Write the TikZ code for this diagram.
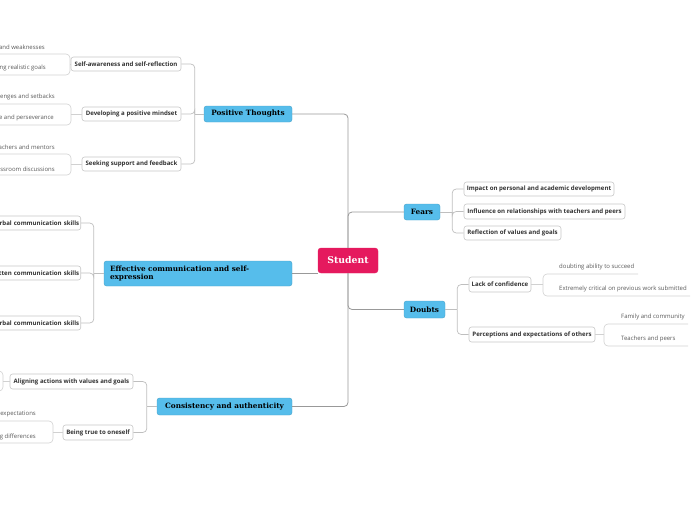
\documentclass[tikz,border=0pt]{standalone}
\usepackage{fontspec}
\setmainfont{Open Sans}
\newfontfamily\slabfont{DejaVu Serif}
\definecolor{topicblue}{HTML}{56BDEB}
\definecolor{rootpink}{HTML}{E5195E}
\begin{document}
\begin{tikzpicture}[
    x=1pt,y=-1pt,
    root/.style={fill=rootpink,draw=rootpink,rounded corners=3pt,
        minimum width=60pt,minimum height=25pt,text=white,
        font=\slabfont\bfseries\fontsize{9.3}{11}\selectfont},
    topic/.style={fill=topicblue,draw=topicblue!85!black,line width=.4pt,
        rounded corners=2.5pt,inner sep=2pt,text=black,
        font=\slabfont\bfseries\fontsize{7.3}{8.3}\selectfont},
    sub/.style={draw=black!22,fill=white,line width=.6pt,rounded corners=2.5pt,
        minimum height=14pt,inner sep=1.5pt,text=black!80,
        font=\bfseries\fontsize{6.1}{7}\selectfont},
    leaf/.style={inner sep=0pt,text=black!65,font=\fontsize{6}{7}\selectfont},
    trunk/.style={draw=black!40,line width=.8pt,rounded corners=4pt},
    branch/.style={draw=black!25,line width=.7pt,rounded corners=4pt},
    leafline/.style={draw=black!18,line width=.6pt,rounded corners=4pt}]
    \useasboundingbox (0,0) rectangle (696,520);
    \node[root] (student) at (348,260.5) {Student};
    \node[topic,minimum width=88pt,minimum height=16pt] (pos) at (248,114) {Positive Thoughts};
    \node[topic,text width=176pt,inner xsep=6pt,minimum height=25pt,align=left] (comm) at (198,273.5)
        {Effective communication and self-\\expression};
    \node[topic,minimum width=135pt,minimum height=17pt] (cons) at (224.5,406.5) {Consistency and authenticity};
    \node[topic,minimum width=36pt,minimum height=16pt] (fears) at (422,212) {Fears};
    \node[topic,minimum width=41pt,minimum height=17pt] (doubts) at (424.5,309.5) {Doubts};

    \draw[trunk] (student.north) |- (pos.east);
    \draw[trunk] (student.north) |- (fears.west);
    \draw[trunk] (comm.east) -- (comm.east -| student.west);
    \draw[trunk] (student.south) |- (cons.east);
    \draw[trunk] (student.south) |- (doubts.west);

    \node[sub,minimum width=110pt] (selfaw) at (126,64) {Self-awareness and self-reflection};
    \node[sub,minimum width=99pt] (mindset) at (131.5,114) {Developing a positive mindset};
    \node[sub,minimum width=99pt] (support) at (131.5,164) {Seeking support and feedback};
    \node[sub,text width=96pt,align=right,anchor=east] (verbal) at (81,223) {rbal communication skills};
    \node[sub,text width=96pt,align=right,anchor=east] (written) at (81,273) {tten communication skills};
    \node[sub,text width=96pt,align=right,anchor=east] (nonverbal) at (81,323) {rbal communication skills};
    \node[sub,minimum width=123pt,minimum height=15pt] (align) at (71.5,381.5) {Aligning actions with values and goals};
    \node[sub,minimum width=70pt,minimum height=15pt] (true) at (98,432.5) {Being true to oneself};
    \node[sub,minimum width=150pt] (impact) at (539,189) {Impact on personal and academic development};
    \node[sub,minimum width=161pt,minimum height=15pt] (influence) at (544.5,211.5) {Influence on relationships with teachers and peers};
    \node[sub,minimum width=97pt] (reflect) at (512.5,233) {Reflection of values and goals};
    \node[sub,minimum width=62pt,minimum height=15pt] (lack) at (500,284.5) {Lack of confidence};
    \node[sub,minimum width=126pt,minimum height=15pt] (percept) at (532,334.5) {Perceptions and expectations of others};

    \draw[branch] (pos.west) -- ++(-9,0) coordinate (posJ);
    \foreach \n in {selfaw,mindset,support} \draw[branch] (posJ) |- (\n.east);
    \draw[branch] (comm.west) -- ++(-10,0) coordinate (commJ);
    \foreach \n in {verbal,written,nonverbal} \draw[branch] (commJ) |- (\n.east);
    \draw[branch] (cons.west) -- ++(-10,0) coordinate (consJ);
    \foreach \n in {align,true} \draw[branch] (consJ) |- (\n.east);
    \draw[branch] (fears.east) -- ++(12,0) coordinate (fearsJ);
    \foreach \n in {impact,influence,reflect} \draw[branch] (fearsJ) |- (\n.west);
    \draw[branch] (doubts.east) -- ++(12,0) coordinate (doubtsJ);
    \foreach \n in {lack,percept} \draw[branch] (doubtsJ) |- (\n.west);

    \foreach \t/\x/\y [count=\i] in {and weaknesses/45/47, ng realistic goals/46/68,
        enges and setbacks/55/97, e and perseverance/54/118,
        achers and mentors/55/147, ssroom discussions/55/169,
        expectations/36/414, g differences/36/437}
        \node[leaf,anchor=east] (lw\i) at (\x,\y) {\t};
    \foreach \t/\x/\y [count=\i] in {doubting ability to succeed/559/267,
        Extremely critical on previous work submitted/559/289,
        Family and community/621/317, Teachers and peers/621/339}
        \node[leaf,anchor=west] (le\i) at (\x,\y) {\t};

    \foreach \bx/\ya/\yb in {70/54/75, 71/104/125, 71/154/175, 53/421/443, 3/371/391}
        \draw[leafline] (-6,\ya) -- (\bx,\ya) -- (\bx,\yb) -- (-6,\yb);
    \draw[leafline] (638,274) -- (543,274) -- (543,296) -- (690,296);
    \draw[leafline] (688,324) -- (604,324) -- (604,346) -- (688,346);
    \draw[leafline] (selfaw.west) -- (selfaw.west -| 70,0);
    \draw[leafline] (mindset.west) -- (mindset.west -| 71,0);
    \draw[leafline] (support.west) -- (support.west -| 71,0);
    \draw[leafline] (true.west) -- (true.west -| 53,0);
    \draw[leafline] (align.west) -- (align.west -| 3,0);
    \draw[leafline] (lack.east) -- (lack.east -| 543,0);
    \draw[leafline] (percept.east) -- (percept.east -| 604,0);
\end{tikzpicture}
\end{document}
